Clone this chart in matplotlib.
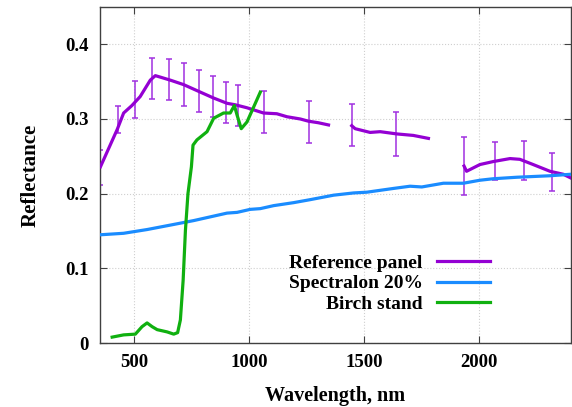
import numpy as np
import matplotlib
matplotlib.use('Agg')
import matplotlib.pyplot as plt
from matplotlib.ticker import FuncFormatter

# Reference panel (gaps = water absorption bands)
ref_wl = [352, 425, 453, 489, 525, 569, 591, 613, 656, 714, 772, 845, 903, 939, 990,
          1062, 1120, 1164, 1222, 1258, 1300, 1345, np.nan,
          1446, 1461, 1526, 1570, 1642, 1714, 1780, np.nan,
          1935, 1946, 2004, 2062, 2135, 2178, 2236, 2309, 2367, 2400]
ref_val = [0.236, 0.286, 0.308, 0.318, 0.330, 0.352, 0.358, 0.356, 0.352, 0.346, 0.338, 0.328,
           0.321, 0.319, 0.315, 0.308, 0.307, 0.303, 0.300, 0.297, 0.295, 0.292, np.nan,
           0.291, 0.287, 0.282, 0.283, 0.280, 0.278, 0.274, np.nan,
           0.237, 0.230, 0.239, 0.243, 0.247, 0.246, 0.239, 0.230, 0.226, 0.221]

# error bars of the reference panel
err_wl = [352, 427, 504, 577, 649, 714, 780, 840, 899, 951, 1065, 1258, 1449, 1638,
          1935, 2070, 2196, 2316]
err_lo = [0.212, 0.281, 0.301, 0.327, 0.325, 0.318, 0.310, 0.303, 0.295, 0.290, 0.281,
          0.268, 0.264, 0.251, 0.198, 0.218, 0.218, 0.204]
err_hi = [0.259, 0.317, 0.351, 0.382, 0.380, 0.375, 0.366, 0.358, 0.350, 0.346, 0.337,
          0.324, 0.320, 0.309, 0.276, 0.269, 0.271, 0.254]

# Spectralon 20%
spec_wl = [352, 453, 555, 657, 758, 845, 903, 947, 1004, 1048, 1106, 1193, 1265, 1367,
           1454, 1512, 1627, 1700, 1751, 1845, 1932, 2004, 2062, 2164, 2309, 2400]
spec_val = [0.145, 0.147, 0.152, 0.158, 0.164, 0.170, 0.174, 0.175, 0.179, 0.180, 0.184,
            0.188, 0.192, 0.198, 0.201, 0.202, 0.207, 0.210, 0.209, 0.214, 0.214, 0.218,
            0.220, 0.222, 0.224, 0.226]

# Birch stand
birch_wl = [403, 453, 504, 533, 555, 577, 599, 642, 671, 688, 700, 712, 722, 733, 748,
            755, 772, 816, 845, 888, 917, 935, 947, 965, 990, 1019, 1048]
birch_val = [0.008, 0.011, 0.012, 0.022, 0.027, 0.022, 0.018, 0.015, 0.012, 0.014, 0.031,
             0.084, 0.151, 0.200, 0.236, 0.265, 0.272, 0.283, 0.301, 0.308, 0.308, 0.318,
             0.305, 0.287, 0.296, 0.316, 0.336]

plt.rcParams['font.family'] = ['Liberation Serif', 'DejaVu Serif']
plt.rcParams['font.weight'] = 'bold'

fig = plt.figure(figsize=(5.72, 4.07), dpi=100)
ax = fig.add_axes([0.1748, 0.157, 0.8232, 0.826])

purple = '#9400d3'
blue = '#1a8cff'
green = '#10b010'

err_mid = [(a + b) / 2 for a, b in zip(err_lo, err_hi)]
err_half = [(b - a) / 2 for a, b in zip(err_lo, err_hi)]
ax.errorbar(err_wl, err_mid, yerr=err_half, fmt='none', ecolor='#a030e0',
            elinewidth=1.1, capsize=2.5, capthick=1.1, zorder=2)

ax.plot(ref_wl, ref_val, color=purple, lw=2.3, label='Reference panel', zorder=3)
ax.plot(spec_wl, spec_val, color=blue, lw=2.3, label='Spectralon 20%', zorder=3)
ax.plot(birch_wl, birch_val, color=green, lw=2.3, label='Birch stand', zorder=4)

ax.set_xlim(350, 2400)
ax.set_ylim(0, 0.45)
ax.set_xticks([500, 1000, 1500, 2000])
ax.set_yticks([0, 0.1, 0.2, 0.3, 0.4])
ax.yaxis.set_major_formatter(FuncFormatter(lambda v, p: '%g' % v))
ax.tick_params(direction='in', length=5, width=0.8, top=True, right=True,
               labelsize=13.5, pad=8, colors='#404040', labelcolor='black')
ax.grid(True, linestyle=':', color='#cfcfcf', linewidth=0.8)
for s in ax.spines.values():
    s.set_color('#404040')
    s.set_linewidth(1.0)

ax.set_xlabel('Wavelength, nm', fontsize=14.5, fontweight='bold', labelpad=11)
ax.set_ylabel('Reflectance', fontsize=15, fontweight='bold', labelpad=18)

leg = ax.legend(loc='center right', bbox_to_anchor=(0.828, 0.177), frameon=False,
                markerfirst=False, fontsize=14, handlelength=2.7, handletextpad=0.75,
                labelspacing=0.15, borderpad=0, borderaxespad=0)
for col in leg._legend_handle_box.get_children():
    col.align = 'right'

fig.savefig('out.png', dpi=100)
